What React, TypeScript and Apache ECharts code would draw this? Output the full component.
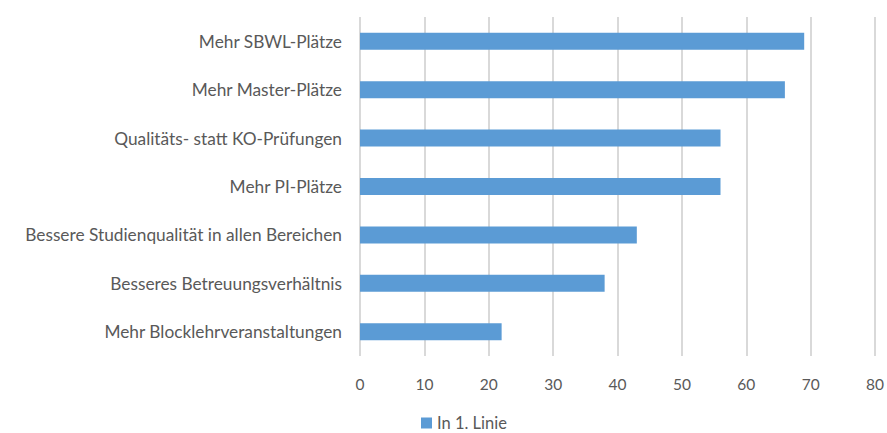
import React, { useEffect, useRef } from "react";
import * as echarts from "echarts";

const categories = [
  "Mehr SBWL-Plätze",
  "Mehr Master-Plätze",
  "Qualitäts- statt KO-Prüfungen",
  "Mehr PI-Plätze",
  "Bessere Studienqualität in allen Bereichen",
  "Besseres Betreuungsverhältnis",
  "Mehr Blocklehrveranstaltungen",
];
const seriesName = "In 1. Linie";
const values = [69, 66, 56, 56, 43, 38, 22];
const xMin = 0;
const xMax = 80;
const xInterval = 10;

const FONT = "Lato";

export default function App() {
  const ref = useRef<HTMLDivElement>(null);
  useEffect(() => {
    if (!ref.current) return;
    const chart = echarts.init(ref.current, undefined, { renderer: "svg" });
    chart.setOption({
      animation: false,
      backgroundColor: "#ffffff",
      textStyle: { fontFamily: FONT },
      grid: { left: 360, right: 11, top: 17, bottom: 77, containLabel: false },
      legend: {
        data: [seriesName],
        top: 409,
        left: 416,
        padding: [5, 5, 3, 5],
        itemWidth: 11,
        itemHeight: 11,
        itemGap: 5,
        icon: "rect",
        textStyle: { color: "#595959", fontSize: 16.5, fontFamily: FONT, lineHeight: 18 },
      },
      xAxis: {
        type: "value",
        min: xMin,
        max: xMax,
        interval: xInterval,
        axisLine: { show: false },
        axisTick: { show: false },
        axisLabel: { color: "#595959", fontSize: 15.5, margin: 20, fontFamily: FONT },
        splitLine: { show: true, lineStyle: { color: "#d9d9d9", width: 2 } },
      },
      yAxis: {
        type: "category",
        data: categories,
        inverse: true,
        axisLine: { show: false },
        axisTick: { show: false },
        axisLabel: { color: "#595959", fontSize: 17.3, margin: 18, fontFamily: FONT },
        splitLine: { show: false },
      },
      series: [
        {
          name: seriesName,
          type: "bar",
          data: values,
          barWidth: 17,
          itemStyle: { color: "#5b9bd5" },
        },
      ],
    });
    return () => chart.dispose();
  }, []);
  return (
    <div
      ref={ref}
      style={{ position: "fixed", left: 0, top: 0, width: 887, height: 433 }}
    />
  );
}
